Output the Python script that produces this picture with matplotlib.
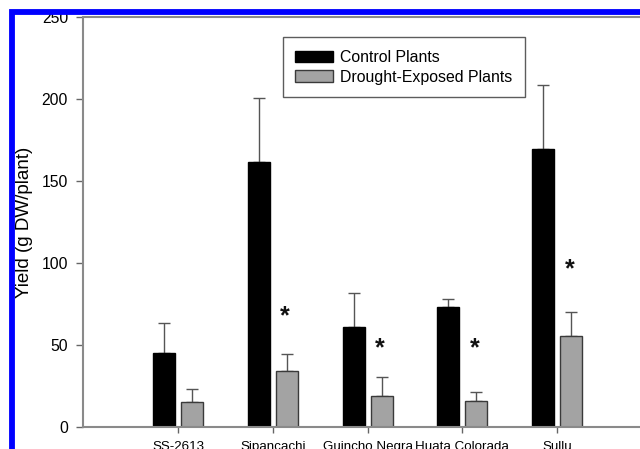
import matplotlib
matplotlib.use("Agg")
import matplotlib.pyplot as plt
from matplotlib.lines import Line2D
import numpy as np

plt.rcParams['font.family'] = ['Liberation Sans', 'DejaVu Sans']

categories = ["SS-2613", "Sipancachi", "Guincho Negra", "Huata Colorada", "Sullu"]
control = [44.8, 161.5, 61.1, 72.9, 169.4]
control_err = [18.7, 39.5, 20.7, 4.9, 39.3]
drought = [14.9, 34.0, 18.7, 15.5, 55.6]
drought_err = [8.3, 10.6, 11.8, 5.7, 14.4]
significant = [False, True, True, True, True]
star_y = [0, 68.7, 49.5, 49.5, 97.7]
yticks = [0, 50, 100, 150, 200, 250]

W, H = 640, 449
fig = plt.figure(figsize=(6.4, 4.49), dpi=100)
ax = fig.add_axes([83.3 / W, (H - 426.7) / H, (652 - 83.3) / W, (426.7 - 17.3) / H])

x = np.arange(1, len(categories) + 1)
off = 0.148
bw = 0.232
ax.bar(x - off, control, bw, color='black', edgecolor='black', linewidth=1,
       label='Control Plants', zorder=2)
ax.bar(x + off, drought, bw, color='#a3a3a3', edgecolor='#3a3a3a', linewidth=1,
       label='Drought-Exposed Plants', zorder=2)
ax.errorbar(x - off, control, yerr=[np.zeros(len(control)), control_err], fmt='none',
            ecolor='#555555', elinewidth=1, capsize=4.5, capthick=1, zorder=1)
ax.errorbar(x + off, drought, yerr=[np.zeros(len(drought)), drought_err], fmt='none',
            ecolor='#555555', elinewidth=1, capsize=4.5, capthick=1, zorder=1)
for xi, s, sy in zip(x, significant, star_y):
    if s:
        ax.text(xi + off - 0.02, sy - 1.5, '*', ha='center', va='center', fontsize=18,
                fontweight='bold', color='#111111')

ax.set_xlim(0, 6)
ax.set_ylim(0, 250)
ax.set_yticks(yticks)
ax.set_xticks(x)
ax.set_xticklabels(categories, fontsize=9.6)
ax.tick_params(axis='y', direction='out', length=5, width=1, color='#666666',
               labelsize=11.3, pad=6)
ax.tick_params(axis='x', direction='out', length=4, width=1, color='#666666',
               labelsize=9.6, pad=6.5)
for sp in ax.spines.values():
    sp.set_color('#8a8a8a')
    sp.set_linewidth(1.5)

ax.set_ylabel('Yield (g DW/plant)', fontsize=13.5)
ax.yaxis.set_label_coords(-0.088, 0.5)

leg = ax.legend(loc='upper left', bbox_to_anchor=(282.7 / W, (H - 37.3) / H),
                bbox_transform=fig.transFigure, fontsize=11.4, frameon=True,
                fancybox=False, borderpad=0.8, handlelength=2.35, handleheight=0.75,
                handletextpad=0.5, labelspacing=0.3, borderaxespad=0)
leg.get_frame().set_edgecolor('#333333')
leg.get_frame().set_linewidth(1)

# blue border frame
bx = [12.2 / W, 12.2 / W, 1.0]
by = [0.0, (H - 12.2) / H, (H - 12.2) / H]
fig.add_artist(Line2D(bx, by, transform=fig.transFigure, color='#0000ff',
                      linewidth=4.2, solid_joinstyle='miter', zorder=20))

fig.savefig('out.png', dpi=100)
